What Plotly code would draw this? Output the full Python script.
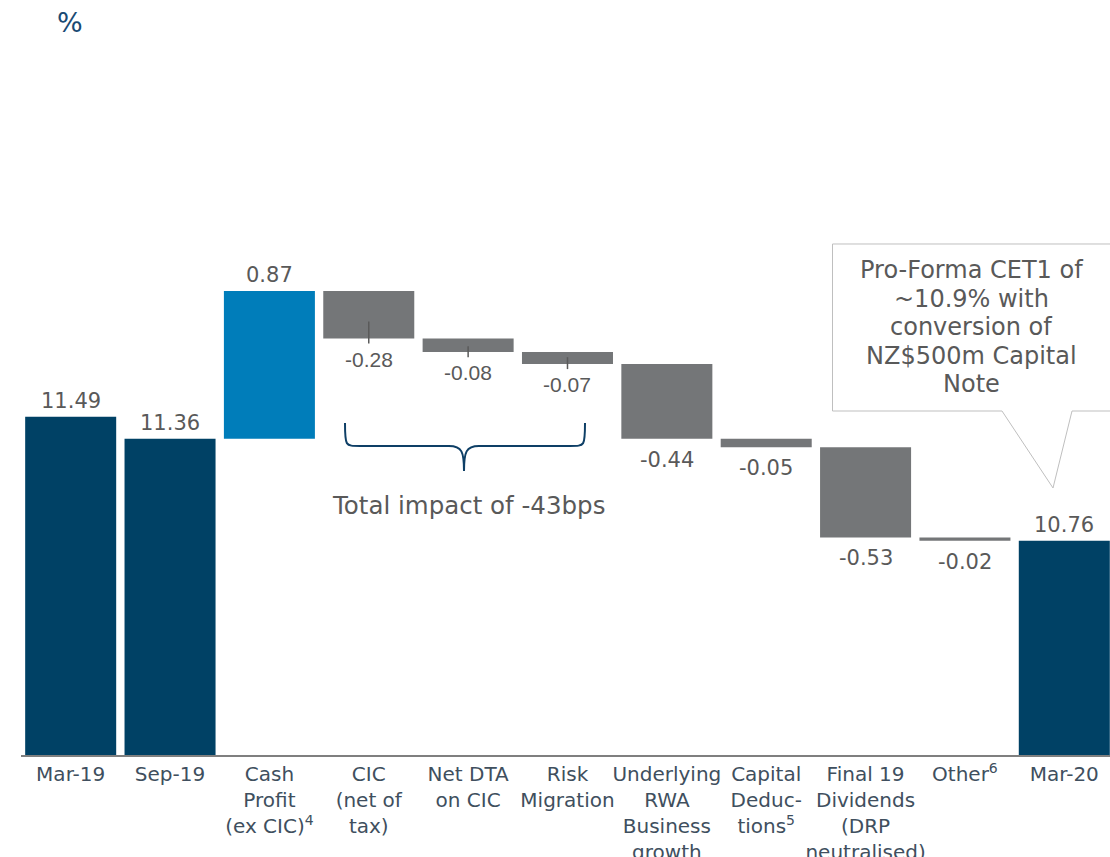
import plotly.graph_objects as go

categories = ["Mar-19", "Sep-19", "Cash<br>Profit<br>(ex CIC)<sup>4</sup>", "CIC<br>(net of<br>tax)",
              "Net DTA<br>on CIC", "Risk<br>Migration", "Underlying<br>RWA<br>Business<br>growth",
              "Capital<br>Deduc-<br>tions<sup>5</sup>", "Final 19<br>Dividends<br>(DRP<br>neutralised)",
              "Other<sup>6</sup>", "Mar-20"]
values = [11.49, 11.36, 0.87, -0.28, -0.08, -0.07, -0.44, -0.05, -0.53, -0.02, 10.76]
kinds = ["total", "total", "delta", "delta", "delta", "delta", "delta", "delta", "delta", "delta", "total"]
callout_lines = ["Pro-Forma CET1 of", "~10.9% with", "conversion of", "NZ$500m Capital", "Note"]
brace_text = "Total impact of -43bps"

NAVY = "#004165"
BLUE = "#007DBA"
GREY = "#747678"
LABEL = "#595959"

W, H = 1110, 857
ML, MR, MT, MB = 21, 0, 30, 102
YMIN = 9.5
PX_PER_UNIT = 170.0
YMAX = YMIN + (H - MT - MB) / PX_PER_UNIT

bases, heights, colors, ends = [], [], [], []
running = 0.0
for v, k in zip(values, kinds):
    if k == "total":
        bases.append(0.0)
        heights.append(v)
        colors.append(NAVY)
        running = v
        ends.append(v)
    else:
        bases.append(running)
        heights.append(v)
        colors.append(BLUE if v > 0 else GREY)
        running = running + v
        ends.append(running)

fig = go.Figure()
fig.add_trace(go.Bar(x=categories, y=heights, base=bases, marker=dict(color=colors, line=dict(width=0)),
                     hoverinfo="skip", showlegend=False))

annotations = []
for i, (c, v, k, b, e) in enumerate(zip(categories, values, kinds, bases, ends)):
    if k == "total" or v > 0:
        top = e if k == "total" else b + v
        annotations.append(dict(x=c, y=top, xref="x", yref="y", text=f"{v:.2f}", showarrow=False,
                                yanchor="bottom", yshift=2,
                                font=dict(family="DejaVu Sans", size=21, color=LABEL)))
    else:
        fam = "Liberation Sans" if i in (3, 4, 5) else "DejaVu Sans"
        annotations.append(dict(x=c, y=e, xref="x", yref="y", text=f"{v:.2f}", showarrow=False,
                                yanchor="top", yshift=-7,
                                font=dict(family=fam, size=21, color=LABEL)))


def px(xp, yp):
    return (xp - ML) / (W - ML - MR), (H - MB - yp) / (H - MT - MB)


def path_from(points_cmds):
    out = []
    for cmd, pts in points_cmds:
        coords = []
        for (a, b) in pts:
            xx, yy = px(a, b)
            coords.append(f"{xx:.5f},{yy:.5f}")
        out.append(cmd + " " + " ".join(coords))
    return " ".join(out)


shapes = []
for i, up in zip((3, 4, 5), (0.1, 0.035, 0.04)):
    shapes.append(dict(type="line", xref="x", yref="y", x0=categories[i], x1=categories[i],
                       y0=ends[i] + up, y1=ends[i] - 0.03, line=dict(color="#5a5a5a", width=1.5)))

callout = path_from([
    ("M", [(832.5, 411)]), ("L", [(832.5, 244)]), ("L", [(1112, 244)]), ("L", [(1112, 411)]),
    ("L", [(1072, 411)]), ("L", [(1053, 488)]), ("L", [(1002, 411)]),
]) + " Z"
shapes.append(dict(type="path", xref="paper", yref="paper", path=callout,
                   fillcolor="white", line=dict(color="#BFBFBF", width=1)))

brace = path_from([
    ("M", [(345, 423)]),
    ("C", [(345, 446), (345, 446), (360, 446)]),
    ("L", [(449, 446)]),
    ("C", [(462, 446), (464, 452), (464, 471)]),
    ("C", [(464, 452), (466, 446), (479, 446)]),
    ("L", [(570, 446)]),
    ("C", [(585, 446), (585, 446), (585, 423)]),
])
shapes.append(dict(type="path", xref="paper", yref="paper", path=brace,
                   line=dict(color="#0E3F66", width=2)))

for j, line in enumerate(callout_lines):
    cx, cy = px(971, 270 + 28.5 * j)
    annotations.append(dict(x=cx, y=cy, xref="paper", yref="paper", text=line, showarrow=False,
                            xanchor="center", yanchor="middle",
                            font=dict(family="DejaVu Sans", size=24, color=LABEL)))
tx, ty = px(468, 505)
annotations.append(dict(x=tx, y=ty, xref="paper", yref="paper", text=brace_text, showarrow=False,
                        xanchor="center", yanchor="middle",
                        font=dict(family="DejaVu Sans", size=24.5, color=LABEL)))
pxp, pyp = px(70, 22)
annotations.append(dict(x=pxp, y=pyp, xref="paper", yref="paper", text="%", showarrow=False,
                        xanchor="center", yanchor="middle",
                        font=dict(family="DejaVu Sans", size=27, color="#1A4A73")))

fig.update_layout(
    width=W, height=H,
    margin=dict(l=ML, r=MR, t=MT, b=MB, autoexpand=False),
    paper_bgcolor="white", plot_bgcolor="white",
    bargap=0.084,
    xaxis=dict(type="category", range=[-0.5, 10.46], showline=True, linecolor="#7F7F7F", linewidth=2,
               ticks="", showgrid=False, zeroline=False, tickangle=0, automargin=False,
               tickfont=dict(family="DejaVu Sans", size=20, color="#404F5E")),
    yaxis=dict(range=[YMIN, YMAX], visible=False, showgrid=False, zeroline=False, automargin=False),
    shapes=shapes, annotations=annotations,
    font=dict(family="DejaVu Sans"),
)

fig.write_html("out.html", config={"displayModeBar": False},
               post_script="document.body.style.margin='0';document.body.style.overflow='hidden';")
